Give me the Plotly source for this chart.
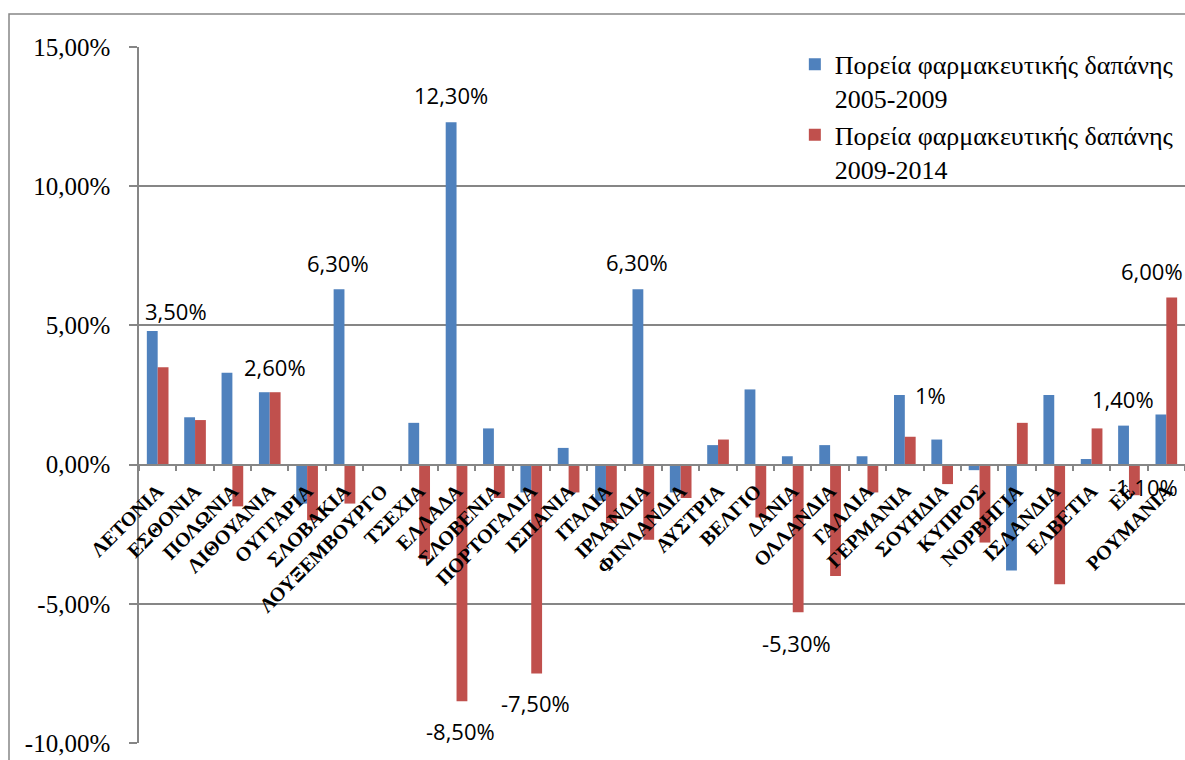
import plotly.graph_objects as go

# Countries (category axis)
countries = [
    "ΛΕΤΟΝΙΑ", "ΕΣΘΟΝΙΑ", "ΠΟΛΩΝΙΑ", "ΛΙΘΟΥΑΝΙΑ", "ΟΥΓΓΑΡΙΑ", "ΣΛΟΒΑΚΙΑ",
    "ΛΟΥΞΕΜΒΟΥΡΓΟ", "ΤΣΕΧΙΑ", "ΕΛΛΑΔΑ", "ΣΛΟΒΕΝΙΑ", "ΠΟΡΤΟΓΑΛΙΑ", "ΙΣΠΑΝΙΑ",
    "ΙΤΑΛΙΑ", "ΙΡΛΑΝΔΙΑ", "ΦΙΝΛΑΝΔΙΑ", "ΑΥΣΤΡΙΑ", "ΒΕΛΓΙΟ", "ΔΑΝΙΑ",
    "ΟΛΛΑΝΔΙΑ", "ΓΑΛΛΙΑ", "ΓΕΡΜΑΝΙΑ", "ΣΟΥΗΔΙΑ", "ΚΥΠΡΟΣ", "ΝΟΡΒΗΓΙΑ",
    "ΙΣΛΑΝΔΙΑ", "ΕΛΒΕΤΙΑ", "ΕΕ", "ΡΟΥΜΑΝΙΑ",
]

# Change in pharmaceutical expenditure (%)
spend_2005_2009 = [
    4.8, 1.7, 3.3, 2.6, -1.4, 6.3,
    0.0, 1.5, 12.3, 1.3, -1.0, 0.6,
    -1.3, 6.3, -1.0, 0.7, 2.7, 0.3,
    0.7, 0.3, 2.5, 0.9, -0.2, -3.8,
    2.5, 0.2, 1.4, 1.8,
]
spend_2009_2014 = [
    3.5, 1.6, -1.5, 2.6, -2.0, -1.4,
    0.0, -3.4, -8.5, -1.2, -7.5, -1.0,
    -2.1, -2.7, -1.2, 0.9, -1.9, -5.3,
    -4.0, -1.0, 1.0, -0.7, -2.8, 1.5,
    -4.3, 1.3, -1.1, 6.0,
]

series_names = [
    "Πορεία φαρμακευτικής δαπάνης<br>2005-2009",
    "Πορεία φαρμακευτικής δαπάνης<br>2009-2014",
]
series_colors = ["#4F81BD", "#C0504D"]

y_tickvals = [-10, -5, 0, 5, 10, 15]
y_ticktext = ["-10,00%", "-5,00%", "0,00%", "5,00%", "10,00%", "15,00%"]

# Value labels: (country, series index, decimals, x shift px, y shift px)
value_labels = [
    ("ΛΕΤΟΝΙΑ", 1, 2, 18, 56),
    ("ΣΛΟΒΑΚΙΑ", 0, 2, -6, 26),
    ("ΛΙΘΟΥΑΝΙΑ", 1, 2, 5, 25),
    ("ΕΛΛΑΔΑ", 0, 2, -6, 27),
    ("ΕΛΛΑΔΑ", 1, 2, 4, -30),
    ("ΠΟΡΤΟΓΑΛΙΑ", 1, 2, 4, -30),
    ("ΙΡΛΑΝΔΙΑ", 0, 2, -6, 27),
    ("ΔΑΝΙΑ", 1, 2, 4, -31),
    ("ΓΕΡΜΑΝΙΑ", 1, 0, 26, 42),
    ("ΕΕ", 0, 2, -6, 27),
    ("ΕΕ", 1, 2, 15, 8),
    ("ΡΟΥΜΑΝΙΑ", 1, 2, -14, 27),
]

GRID = "#868686"
W, H = 1185, 760
M_L, M_R, M_T, M_B = 139, 0, 47, 17
Y_MIN, Y_MAX = -10, 15

fig = go.Figure()
for name, vals, col in zip(series_names, [spend_2005_2009, spend_2009_2014], series_colors):
    fig.add_trace(go.Bar(
        x=countries, y=vals, name=name,
        marker=dict(color=col, line=dict(width=0)),
    ))

all_series = [spend_2005_2009, spend_2009_2014]
for country, s, dec, dx, dy in value_labels:
    v = all_series[s][countries.index(country)]
    txt = f"{v:.{dec}f}".replace(".", ",") + "%"
    fig.add_annotation(
        x=country, y=v, text=txt, showarrow=False,
        xshift=dx, yshift=dy, xanchor="center", yanchor="middle",
        font=dict(family="Open Sans", size=22, color="#000000"),
    )

# Outer chart-area frame
plot_w = W - M_L - M_R
plot_h = H - M_T - M_B
fig.add_shape(
    type="rect", xref="paper", yref="paper",
    x0=(9 - M_L) / plot_w, x1=1.02,
    y0=-0.05, y1=(H - M_B - 14) / plot_h,
    line=dict(color=GRID, width=1.5), fillcolor="rgba(0,0,0,0)",
    layer="below",
)

fig.update_layout(
    width=W, height=H,
    margin=dict(l=M_L, r=M_R, t=M_T, b=M_B, autoexpand=False),
    paper_bgcolor="white", plot_bgcolor="white",
    barmode="group", bargap=0.42, bargroupgap=0.0,
    showlegend=True,
    legend=dict(
        x=0.627, y=1.009, xanchor="left", yanchor="top",
        bgcolor="rgba(0,0,0,0)", valign="top", tracegroupgap=0,
        font=dict(family="Liberation Serif", size=26, color="#000000"),
        itemsizing="constant",
    ),
    xaxis=dict(
        type="category", range=[-0.5, len(countries) - 0.5],
        anchor="free", position=(0 - Y_MIN) / (Y_MAX - Y_MIN),
        showline=True, linecolor=GRID, linewidth=1.5,
        ticks="outside", ticklen=6, tickcolor=GRID, tickwidth=1.5,
        tickson="boundaries", showgrid=False, zeroline=False,
        tickangle=-45, ticklabelstandoff=6,
        tickfont=dict(family="Liberation Serif", size=20, color="#000000", weight="bold"),
        automargin=False,
    ),
    yaxis=dict(
        range=[Y_MIN, Y_MAX],
        tickvals=y_tickvals, ticktext=y_ticktext,
        showgrid=True, gridcolor=GRID, gridwidth=1.5,
        zeroline=False,
        showline=True, linecolor=GRID, linewidth=1.5,
        ticks="outside", ticklen=8, tickcolor=GRID, tickwidth=1.5,
        ticklabelstandoff=14,
        tickfont=dict(family="Liberation Serif", size=25, color="#000000"),
        automargin=False,
    ),
)

fig.write_html("out.html")
